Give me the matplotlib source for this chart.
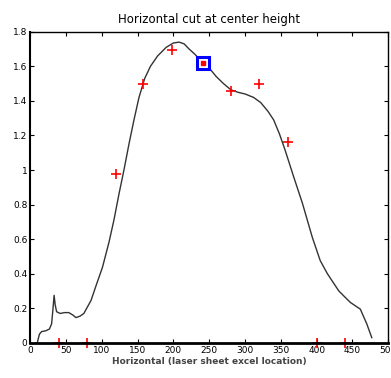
import matplotlib
matplotlib.use('Agg')
import matplotlib.pyplot as plt

# profile along the horizontal cut
xs = [10, 13, 16, 22, 27, 30, 32, 33.5, 35, 37, 42, 48, 54, 60, 64, 70, 75, 85, 92,
      101, 110, 117, 124, 131, 138, 145, 152, 160, 168, 178, 190, 200, 208, 215, 222,
      230, 240, 250, 260, 270, 280, 290, 300, 312, 322, 332, 340, 348, 356, 368, 380,
      394, 405, 415, 431, 447, 461, 470, 477]
ys = [0.0, 0.05, 0.065, 0.07, 0.08, 0.11, 0.2, 0.275, 0.22, 0.18, 0.17, 0.175, 0.175,
      0.16, 0.146, 0.155, 0.17, 0.245, 0.33, 0.437, 0.58, 0.71, 0.86, 1.0, 1.15, 1.29,
      1.42, 1.53, 1.6, 1.66, 1.71, 1.735, 1.74, 1.73, 1.70, 1.67, 1.625, 1.59, 1.54,
      1.50, 1.465, 1.45, 1.44, 1.42, 1.39, 1.34, 1.29, 1.21, 1.115, 0.96, 0.81, 0.61,
      0.476, 0.40, 0.30, 0.234, 0.195, 0.11, 0.03]

# measured points
px = [40, 80, 120, 158, 198, 241, 280, 320, 360, 400, 440]
py = [0, 0, 0.975, 1.495, 1.694, 1.62, 1.456, 1.495, 1.163, 0, 0]

# highlighted point
sx = [241]
sy = [1.62]

fig = plt.figure(figsize=(3.91, 3.78), dpi=100)
ax = fig.add_axes([0.077, 0.093, 0.916, 0.823])

ax.plot(xs, ys, color='#333333', linewidth=1.0)
ax.plot(px, py, 'r+', markersize=7, markeredgewidth=1.2, clip_on=False)
ax.plot(sx, sy, 's', markersize=9, markerfacecolor='white', markeredgecolor='blue',
        markeredgewidth=2.2)
ax.plot(sx, sy, 's', markersize=3, color='red')

ax.set_xlim(0, 500)
ax.set_ylim(0, 1.8)
ax.set_xticks(range(0, 501, 50))
ax.set_yticks([0, 0.2, 0.4, 0.6, 0.8, 1, 1.2, 1.4, 1.6, 1.8])
ax.set_yticklabels(['0', '0.2', '0.4', '0.6', '0.8', '1', '1.2', '1.4', '1.6', '1.8'])
ax.tick_params(direction='in', top=True, right=True, labelsize=6.5, length=3, pad=2)
for s in ax.spines.values():
    s.set_linewidth(1.0)
ax.spines['bottom'].set_linewidth(2.0)
ax.spines['left'].set_linewidth(1.5)

ax.set_title('Horizontal cut at center height', fontsize=8.5, pad=6)
ax.set_xlabel('Horizontal (laser sheet excel location)', fontsize=6.5,
              fontweight='bold', color='#444444', labelpad=2)

fig.savefig('out.png', dpi=100)
